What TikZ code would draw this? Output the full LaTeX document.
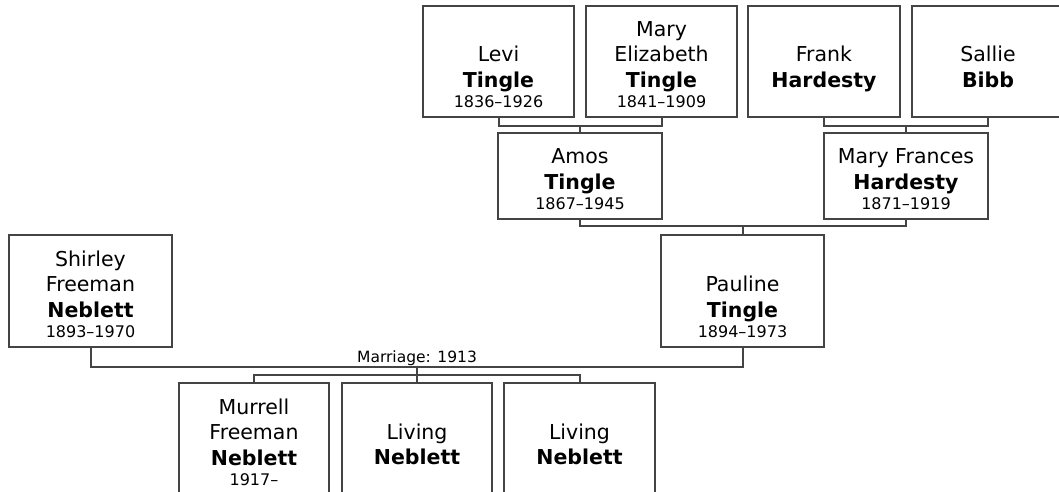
\documentclass[tikz,border=0pt]{standalone}
\usepackage{fontspec}
\setmainfont{DejaVu Sans}
\usetikzlibrary{positioning}
\definecolor{linegray}{HTML}{444444}
\newcommand{\namefont}{\fontsize{20.5}{25.5}\selectfont}
\newcommand{\datefont}{\fontsize{16}{20}\selectfont}
\newcommand{\life}[1]{\\[-5.5pt]{\datefont #1}}
\tikzset{
    % Person boxes
    person/.style={rectangle, draw=linegray, line width=2pt, fill=white,
                   minimum width=151pt, minimum height=111pt, inner sep=0pt},
    wide person/.style={person, minimum width=164pt},
    short person/.style={wide person, minimum height=86pt},
    % Texts
    pname/.style={align=center, inner sep=0pt, text depth=0pt, font=\namefont},
    marr/.style={font=\fontsize{15.5}{18}\selectfont, inner sep=0pt},
    % Connectors
    link/.style={draw=linegray, line width=2pt},
}

\begin{document}
\begin{tikzpicture}[x=1pt, y=-1pt]
    \clip (0,0) rectangle (1059,491);

    % Great-grandparents
    \node[person] (levi) at (498.5, 61.5) {};
    \node[pname, above=10.5pt of levi.south] (levi-name) {Levi\\\textbf{Tingle}\life{1836–1926}};
    \node[person] (marye) at (661.5, 61.5) {};
    \node[pname, above=10.5pt of marye.south] (marye-name) {Mary\\Elizabeth\\\textbf{Tingle}\life{1841–1909}};
    \node[person, minimum width=152pt] (frank) at (824, 61.5) {};
    \node[pname, above=30.5pt of frank.south] (frank-name) {Frank\\\textbf{Hardesty}};
    \node[person, minimum width=152pt] (sallie) at (988, 61.5) {};
    \node[pname, above=30.5pt of sallie.south] (sallie-name) {Sallie\\\textbf{Bibb}};

    % Grandparents
    \node[short person] (amos) at (580, 176) {};
    \node[pname, above=10.5pt of amos.south] (amos-name) {Amos\\\textbf{Tingle}\life{1867–1945}};
    \node[short person] (maryf) at (906, 176) {};
    \node[pname, above=10.5pt of maryf.south] (maryf-name) {Mary Frances\\\textbf{Hardesty}\life{1871–1919}};

    % Couple
    \node[person, minimum width=163pt, minimum height=112pt] (shirley) at (90.5, 291) {};
    \node[pname, above=10.5pt of shirley.south] (shirley-name) {Shirley\\Freeman\\\textbf{Neblett}\life{1893–1970}};
    \node[person, minimum width=163pt, minimum height=112pt] (pauline) at (742.5, 291) {};
    \node[pname, above=10.5pt of pauline.south] (pauline-name) {Pauline\\\textbf{Tingle}\life{1894–1973}};

    % Children
    \node[person, minimum width=150pt, minimum height=112pt] (murrell) at (254, 439) {};
    \node[pname, above=10.5pt of murrell.south] (murrell-name) {Murrell\\Freeman\\\textbf{Neblett}\life{1917–}};
    \node[person, minimum width=150pt, minimum height=112pt] (living1) at (417, 439) {};
    \node[pname, above=31pt of living1.south] (living1-name) {Living\\\textbf{Neblett}};
    \node[person, minimum height=112pt] (living2) at (579.5, 439) {};
    \node[pname, above=31pt of living2.south] (living2-name) {Living\\\textbf{Neblett}};

    % Junctions
    \coordinate (bar1) at (580, 126);
    \coordinate (bar2) at (906, 126);
    \coordinate (bar3) at (742.5, 226);
    \coordinate (wed) at (417, 367);
    \coordinate (kids) at (417, 375);

    \draw[link] (levi.south) |- (bar1) -| (marye.south);
    \draw[link] (bar1) -- (amos.north);
    \draw[link] (frank.south) |- (bar2) -| (sallie.south);
    \draw[link] (bar2) -- (maryf.north);
    \draw[link] (amos.south) |- (bar3) -| (maryf.south);
    \draw[link] (bar3) -- (pauline.north);
    \draw[link] (shirley.south) |- (wed) -| (pauline.south);
    \node[marr, above=1pt of wed] (wed-label) {Marriage: 1913};
    \draw[link] (wed) -- (kids);
    \draw[link] (murrell.north) |- (kids) -| (living2.north);
    \draw[link] (kids) -- (living1.north);
\end{tikzpicture}
\end{document}
